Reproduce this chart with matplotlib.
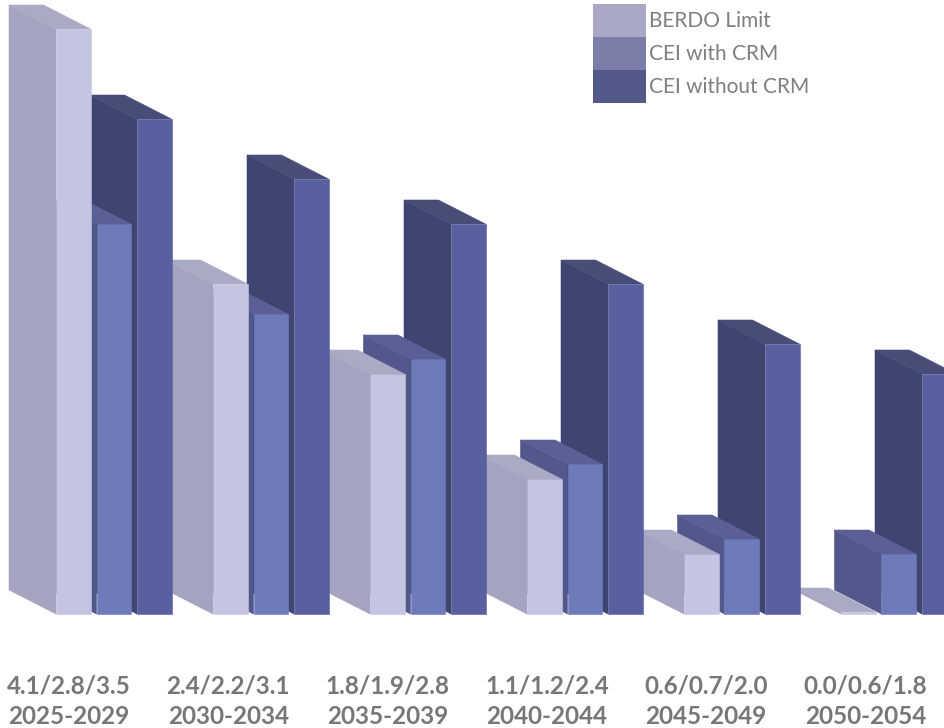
import numpy as np
import matplotlib
matplotlib.use("Agg")
import matplotlib.pyplot as plt
from matplotlib.patches import Polygon, Patch

periods = ["2025-2029", "2030-2034", "2035-2039", "2040-2044", "2045-2049", "2050-2054"]
berdo_limit = [4.1, 2.4, 1.8, 1.1, 0.6, 0.0]
cei_with_crm = [2.8, 2.2, 1.9, 1.2, 0.7, 0.6]
cei_without_crm = [3.5, 3.1, 2.8, 2.4, 2.0, 1.8]
series_names = ["BERDO Limit", "CEI with CRM", "CEI without CRM"]

# face colours per series: front, left side, top
shades = [
    ("#c4c5e2", "#a4a4c0", "#aaaac4"),
    ("#6f7abb", "#52588c", "#5a6096"),
    ("#5860a0", "#3f4570", "#484d77"),
]
legend_colors = ["#a9a9c7", "#7b7ea8", "#525888"]
text_gray = "#777777"

W, H = 944, 728
fig = plt.figure(figsize=(W / 100, H / 100), dpi=100)
ax = fig.add_axes([0, 0, 1, 1])

floor = 0.2          # value axis starts here
px_x = 157.0         # pixels per category slot
px_y = 150.0         # pixels per value unit
x_first = 56 / px_x
ybot = floor - 114 / px_y
ax.set_xlim(0, W / px_x)
ax.set_ylim(ybot, ybot + H / px_y)
ax.axis("off")

bar_w = 34.5 / px_x
step = 40.5 / px_x
depth = np.array([-47 / px_x, 24 / px_y])
min_thick = 2 / px_y
label_x0, label_pitch = 69 / px_x, 159.3 / px_x


def draw_box(x, value, colors):
    front, side, lid = colors
    top = max(value, floor)
    top = max(top, floor + min_thick)
    f = np.array([[x, floor], [x + bar_w, floor], [x + bar_w, top], [x, top]])
    b = f + depth
    faces = [
        ([f[0], f[3], b[3], b[0]], side),
        ([f[3], f[2], b[2], b[3]], lid),
        (f, front),
    ]
    for pts, c in faces:
        ax.add_patch(Polygon(pts, closed=True, facecolor=c, edgecolor=c, lw=0.4))


data = [berdo_limit, cei_with_crm, cei_without_crm]
# paint from the right so nearer (left) boxes cover the side faces behind them
for g in reversed(range(len(periods))):
    for s in reversed(range(3)):
        x = x_first + g + s * step
        draw_box(x, data[s][g], shades[s])

for g, period in enumerate(periods):
    xc = label_x0 + g * label_pitch
    label = f"{berdo_limit[g]:.1f}/{cei_with_crm[g]:.1f}/{cei_without_crm[g]:.1f}"
    ax.text(xc, ybot + 42 / px_y, label, ha="center", va="center",
            fontsize=17.5, fontweight="bold", color=text_gray, family="Lato")
    ax.text(xc, ybot + 12 / px_y, period, ha="center", va="center",
            fontsize=17.5, fontweight="bold", color=text_gray, family="Lato")

handles = [Patch(facecolor=c, edgecolor="none", label=n)
           for c, n in zip(legend_colors, series_names)]
ax.legend(handles=handles, loc="upper left",
          bbox_to_anchor=(593 / W, 1 - 4 / H), bbox_transform=fig.transFigure,
          frameon=False, prop={"family": "Lato", "size": 15},
          handlelength=2.55, handleheight=2.06, handletextpad=0.15,
          labelspacing=0, borderpad=0, borderaxespad=0, labelcolor="#7f7f7f")

fig.savefig("out.png", dpi=100)
